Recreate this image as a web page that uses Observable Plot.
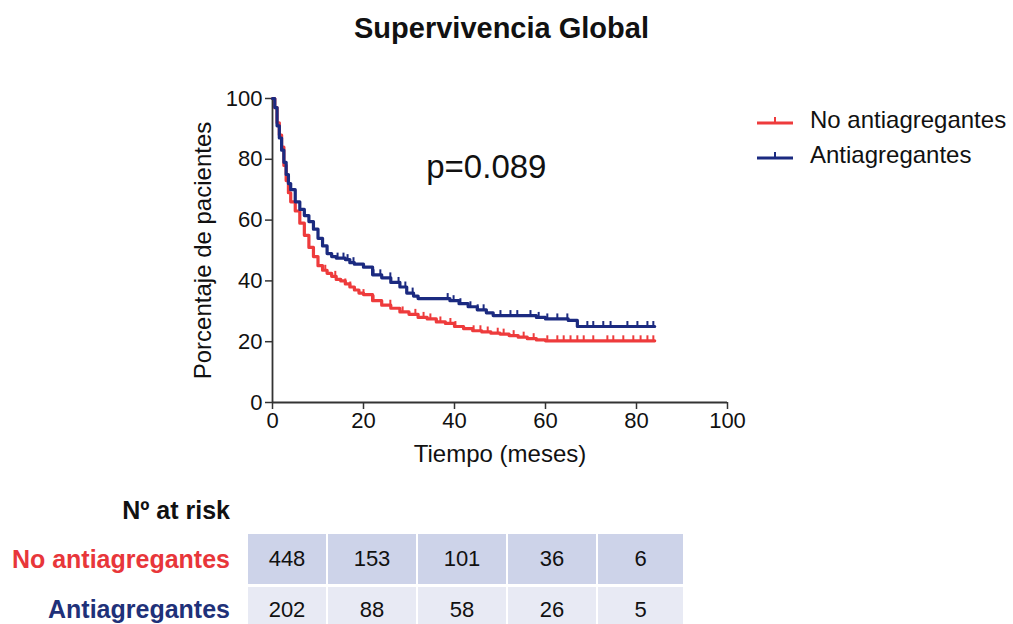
<!DOCTYPE html>
<html><head><meta charset="utf-8">
<script src="https://cdn.jsdelivr.net/npm/d3@7"></script>
<script src="https://cdn.jsdelivr.net/npm/@observablehq/plot@0.6"></script>
<style>
body{margin:0;background:#fff;font-family:"Liberation Sans",Arial,Helvetica,sans-serif;color:#111;}
#wrap{position:relative;width:1013px;height:624px;overflow:hidden;}
#title{position:absolute;left:0;top:12px;width:1003px;text-align:center;font-weight:bold;font-size:29px;}
#chart{position:absolute;left:0;top:0;}
.lg{position:absolute;left:757px;height:30px;display:flex;align-items:center;font-size:24px;}
.lg svg{margin-right:17px;}
.rl{position:absolute;right:783px;font-weight:bold;font-size:25px;white-space:nowrap;line-height:30px;}
#grid{position:absolute;left:248px;top:534px;display:grid;grid-template-columns:78px 88px 88px 88px 85px;grid-template-rows:50px 46px;column-gap:2px;row-gap:3px;}
#grid div{display:flex;align-items:center;justify-content:center;font-size:22px;}
</style></head><body>
<div id="wrap">
  <div id="chart"></div>
  <div id="title">Supervivencia Global</div>
  <div id="legend"></div>
  <div id="risk"></div>
</div>
<script>
const groups = ["No antiagregantes", "Antiagregantes"];
const colors = ["#ee3b3c", "#1b2a80"];
const labelColors = ["#e8363a", "#1f3179"];

// Kaplan-Meier curves (months, % survival)
const redTime = [0,0.5,1,1.5,2,2.5,3,3.5,4,5,6,7,8,9,10,11,12,13,14,15,16,17,18,19,20,22,24,26,28,30,32,34,36,38,40,42,44,46,48,50,52,54,56,58,60,84];
const redSurv = [100,97,92,88,84,78,73,69,66,63,59,55,51,48,45,43.5,42.5,41.5,40.5,40,39,38,37,36,35.5,33.5,32,31,29.8,29,28,27.5,26.5,26,25,24.3,23.6,23.2,22.8,22.5,22,21.5,21,20.6,20.3,20.3];
const blueTime = [0,0.5,1,1.5,2,2.5,3,3.5,4,5,6,7,8,9,10,11,12,13,14,16,17,18,20,22,24,26,28,29.5,31,32,38,39,41,43,45,47,48.5,56.5,58,60,65,67,84];
const blueSurv = [100,97,91,87,83,79,75,72,70,66,63.5,61.5,59.5,57,54,51.5,49,48,47.5,47,46,45.5,44.5,42,41,39.5,38,36,35,34.2,34.2,33.5,32.5,31.5,30.5,29.5,28.6,28.6,28,27.5,27,25,25];

// censored observations (months)
const redCensor = [11.6,13.8,16,17.1,20,22.2,25.9,28.6,31.4,33.2,34.7,36.9,39.1,40.2,44.2,45.7,47.3,49.5,50.8,53,55.2,57.4,60.4,62.6,64,65.5,67,68.4,70.5,73.6,74.9,77.1,79.3,80.9,82.4,83.7];
const blueCensor = [14.3,15.6,16.5,17.8,22.2,23.7,25.9,27.7,29.2,30.8,38.5,39.8,41.3,43.5,45.1,46.4,50.1,52.3,53.8,56.7,58.5,60.4,62.6,64.8,69.2,70.5,72.7,74.3,78,80.2,82.4,83.7];

const xTicks = [0,20,40,60,80,100];
const yTicks = [0,20,40,60,80,100];
const pText = "p=0.089";
const pPos = {t: 47, s: 77.3};

const riskHeader = "Nº at risk";
const riskRed = [448,153,101,36,6];
const riskBlue = [202,88,58,26,5];

const series = [
  {g: groups[0], time: redTime, surv: redSurv, cens: redCensor},
  {g: groups[1], time: blueTime, surv: blueSurv, cens: blueCensor}
];
const curves = [];
const censors = [];
for (const s of series) {
  s.time.forEach((t, i) => curves.push({g: s.g, t, S: s.surv[i]}));
  for (const c of s.cens) {
    let S = s.surv[0];
    for (let i = 0; i < s.time.length; i++) if (s.time[i] <= c) S = s.surv[i];
    censors.push({g: s.g, t: c, S});
  }
}

const chart = Plot.plot({
  width: 1013, height: 480,
  marginLeft: 272, marginRight: 286, marginTop: 98, marginBottom: 78,
  style: {fontFamily: '"Liberation Sans",Arial,sans-serif', fontSize: "22px", color: "#111", background: "transparent", overflow: "visible"},
  x: {domain: [0, 100]},
  y: {domain: [0, 100]},
  color: {domain: groups, range: colors},
  marks: [
    Plot.axisX({ticks: xTicks, tickSize: 7, tickPadding: 3, fontSize: 22, label: null, stroke: "#333", strokeWidth: 1.5}),
    Plot.axisY({ticks: yTicks, tickSize: 7, tickPadding: 3, fontSize: 22, label: null, stroke: "#333", strokeWidth: 1.5}),
    Plot.ruleX([0], {stroke: "#333", strokeWidth: 1.8}),
    Plot.ruleY([0], {stroke: "#333", strokeWidth: 1.8}),
    Plot.text(["Tiempo (meses)"], {frameAnchor: "bottom", textAnchor: "middle", dy: 59, fontSize: 24, fill: "#111"}),
    Plot.text(["Porcentaje de pacientes"], {frameAnchor: "left", textAnchor: "middle", rotate: -90, dx: -69, fontSize: 24, fill: "#111"}),
    Plot.line(curves, {x: "t", y: "S", z: "g", stroke: "g", curve: "step-after", strokeWidth: 3.2}),
    Plot.link(censors, {x1: "t", x2: "t", y1: "S", y2: d => d.S + 1.8, stroke: "g", strokeWidth: 2}),
    Plot.text([pText], {x: () => pPos.t, y: () => pPos.s, fontSize: 33, fill: "#111"})
  ]
});
document.getElementById("chart").appendChild(chart);

// legend
const lg = document.getElementById("legend");
groups.forEach((g, i) => {
  const d = document.createElement("div");
  d.className = "lg";
  d.style.top = (105 + i * 35) + "px";
  d.innerHTML = `<svg width="36" height="14"><line x1="0" y1="10" x2="36" y2="10" stroke="${colors[i]}" stroke-width="3"/><line x1="18" y1="10" x2="18" y2="4" stroke="${colors[i]}" stroke-width="2"/></svg><span>${g}</span>`;
  lg.appendChild(d);
});

// risk table
const risk = document.getElementById("risk");
const hdr = document.createElement("div");
hdr.className = "rl"; hdr.style.top = "495px"; hdr.textContent = riskHeader;
risk.appendChild(hdr);
[[riskRed, 544], [riskBlue, 594]].forEach(([arr, top], i) => {
  const l = document.createElement("div");
  l.className = "rl"; l.style.top = top + "px"; l.style.color = labelColors[i];
  l.textContent = groups[i];
  risk.appendChild(l);
});
const grid = document.createElement("div");
grid.id = "grid";
[[riskRed, "#cdd3e9"], [riskBlue, "#e8eaf4"]].forEach(([arr, bg]) => {
  arr.forEach(v => {
    const c = document.createElement("div");
    c.style.background = bg;
    c.textContent = v;
    grid.appendChild(c);
  });
});
risk.appendChild(grid);
</script>
</body></html>
